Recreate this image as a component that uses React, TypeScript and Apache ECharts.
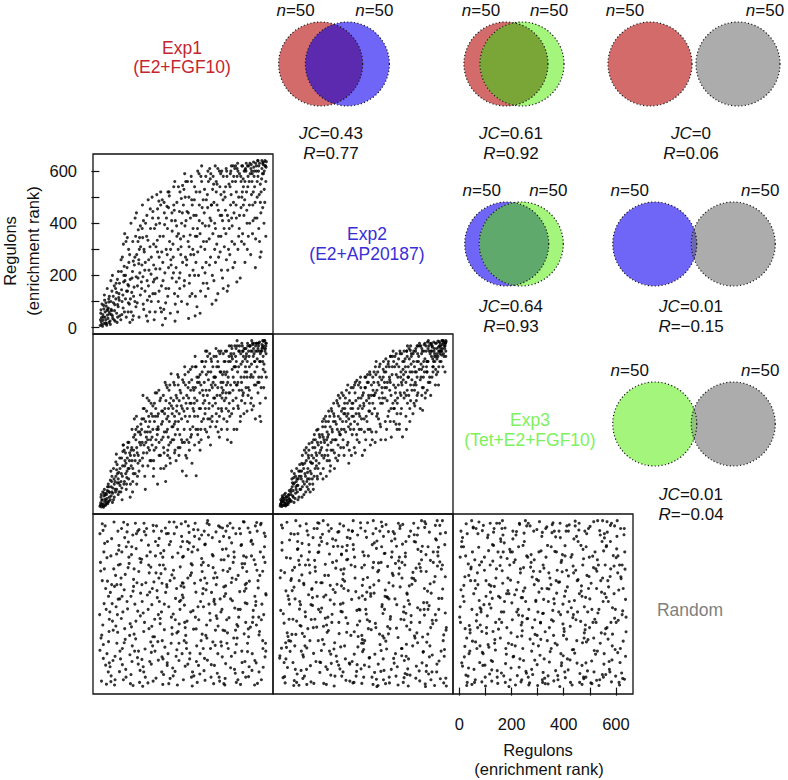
import React, { useEffect, useRef } from "react";
import * as echarts from "echarts";

// ---------------- data ----------------
const setNames = ["Exp1", "Exp2", "Exp3", "Random"];
const setConditions = ["(E2+FGF10)", "(E2+AP20187)", "(Tet+E2+FGF10)", ""];
const setSizes = [50, 50, 50, 50];

const vennLeft = [0, 0, 0, 1, 1, 2];
const vennRight = [1, 2, 3, 2, 3, 3];
const vennJC = [0.43, 0.61, 0, 0.64, 0.01, 0.01];
const vennJCText = ["0.43", "0.61", "0", "0.64", "0.01", "0.01"];
const vennRText = ["0.77", "0.92", "0.06", "0.93", "\u22120.15", "\u22120.04"];

const rankMin = 1;
const rankMax = 640;
const rankTicks = [0, 100, 200, 300, 400, 500, 600];
const rankTickLabels = [0, 200, 400, 600];

// scatter panels: x set index, y set index
const panelXSet = [0, 0, 1, 0, 1, 2];
const panelYSet = [1, 2, 2, 3, 3, 3];

// flattened rank pairs: x, y, x, y, ...
const exp1Exp2 = [
  3,8, 7,22, 12,5, 15,40, 18,15, 22,60, 25,30, 28,9, 31,48, 34,75, 37,20, 5,55, 10,90, 20,105, 26,82, 33,35, 38,120, 14,28, 29,66, 36,98, 8,38, 24,18, 17,72, 39,52,
  42,12, 45,70, 48,140, 51,35, 54,95, 57,160, 60,25, 63,110, 66,55, 69,185, 72,80, 75,130, 78,45, 44,100, 50,200, 58,65, 62,150, 68,20, 74,115, 77,170, 46,50, 70,88,
  82,30, 85,145, 88,270, 91,75, 94,200, 97,360, 100,110, 103,40, 106,230, 109,165, 112,300, 115,90, 118,185, 84,215, 90,125, 96,60, 102,330, 108,140, 113,250, 117,20, 93,175, 111,95,
  122,60, 125,190, 128,330, 131,120, 134,240, 137,420, 140,80, 143,280, 146,160, 149,375, 152,40, 155,210, 158,310, 124,135, 130,255, 136,100, 142,440, 148,190, 154,345, 157,125, 127,30, 151,260,
  162,150, 165,470, 168,90, 171,300, 174,220, 177,400, 180,45, 183,180, 186,335, 189,260, 192,120, 195,455, 198,205, 164,380, 170,70, 176,250, 182,430, 188,160, 194,310, 199,100, 167,195, 185,25,
  202,500, 205,130, 208,240, 211,380, 214,60, 217,310, 220,190, 223,455, 226,100, 229,270, 232,350, 235,520, 238,160, 204,420, 210,30, 216,225, 222,335, 228,485, 234,75, 239,290, 207,175, 231,400,
  242,10, 245,350, 248,480, 251,210, 254,95, 257,420, 260,280, 263,520, 266,150, 269,330, 272,55, 275,240, 278,440, 244,180, 250,395, 256,300, 262,120, 268,505, 274,260, 279,370, 247,70, 265,460,
  282,320, 285,540, 288,130, 291,410, 294,230, 297,480, 300,60, 303,360, 306,190, 309,520, 312,280, 315,100, 318,440, 284,210, 290,25, 296,390, 302,300, 308,150, 314,495, 319,250, 287,450, 311,340,
  322,470, 325,160, 328,390, 331,560, 334,240, 337,90, 340,330, 343,500, 346,200, 349,420, 352,580, 355,130, 358,300, 324,530, 330,270, 336,445, 342,35, 348,355, 354,490, 359,220, 327,590, 345,170,
  362,280, 365,540, 368,120, 371,430, 374,350, 377,600, 380,200, 383,470, 386,55, 389,310, 392,560, 395,400, 398,170, 364,490, 370,250, 376,380, 382,590, 388,140, 394,460, 399,330, 367,45, 385,520,
  402,440, 405,210, 408,580, 411,330, 414,510, 417,150, 420,390, 423,610, 426,270, 429,470, 432,90, 435,360, 438,550, 404,300, 410,490, 416,600, 422,240, 428,410, 434,530, 439,180, 407,120, 425,570,
  442,400, 445,250, 448,560, 451,470, 454,130, 457,350, 460,600, 463,290, 466,510, 469,430, 472,190, 475,580, 478,380, 444,620, 450,320, 456,450, 462,540, 468,220, 474,490, 479,310, 447,105, 465,590,
  482,500, 485,360, 488,600, 491,430, 494,160, 497,550, 500,280, 503,470, 506,620, 509,390, 512,230, 515,580, 518,320, 484,540, 490,140, 496,410, 502,590, 508,330, 514,480, 519,610, 487,260, 505,510,
  522,560, 525,420, 528,610, 531,300, 534,500, 537,590, 540,190, 543,460, 546,620, 549,360, 552,540, 555,600, 558,250, 524,470, 530,630, 536,380, 542,580, 548,520, 554,430, 559,605, 527,175, 545,330, 551,570, 557,490,
  562,600, 565,450, 568,620, 571,350, 574,560, 577,630, 580,280, 583,510, 586,590, 589,410, 592,615, 595,540, 598,230, 564,520, 570,580, 576,400, 582,625, 588,470, 594,600, 599,340, 567,300, 585,560, 591,635, 597,480,
  602,620, 605,500, 608,580, 611,380, 614,630, 617,550, 620,290, 623,610, 626,460, 629,635, 632,530, 635,640, 638,350, 604,420, 610,600, 616,270, 622,570, 628,625, 634,480, 639,615, 607,640, 613,510, 625,590, 631,400, 637,620, 619,440,
];
const exp1Exp2More = [
  4,30, 9,12, 13,50, 16,85, 21,40, 27,15, 32,70, 36,110, 41,25, 47,65, 53,120, 59,88, 64,170, 70,40, 76,105, 6,68, 19,125, 30,150, 44,180, 56,30, 66,135, 73,215, 38,60, 25,95, 50,45,
  83,260, 87,100, 92,320, 98,180, 104,140, 110,60, 116,280, 121,400, 127,215, 133,155, 139,350, 145,95, 151,245, 157,390, 86,50, 95,235, 107,345, 119,110, 130,45, 141,195, 153,300, 100,200, 112,160, 136,270, 148,330,
  163,240, 169,410, 175,140, 181,350, 187,490, 193,60, 199,270, 205,445, 211,185, 217,395, 223,290, 229,140, 235,470, 161,175, 172,290, 184,105, 196,380, 208,320, 220,510, 232,225, 166,345, 190,220, 214,130, 226,420, 238,60,
  243,250, 249,440, 255,150, 261,380, 267,520, 273,300, 279,190, 285,470, 291,90, 297,350, 303,540, 309,210, 315,400, 241,490, 253,35, 265,230, 277,410, 289,560, 301,120, 313,310, 259,465, 283,270, 295,175, 307,445, 319,545,
  323,350, 329,500, 335,260, 341,440, 347,120, 353,560, 359,380, 365,200, 371,520, 377,290, 383,410, 389,580, 395,230, 326,180, 338,560, 350,280, 362,430, 374,80, 386,360, 398,490, 332,410, 344,310, 356,470, 368,350, 392,620,
  403,530, 409,250, 415,460, 421,340, 427,590, 433,200, 439,480, 445,380, 451,550, 457,270, 463,430, 469,600, 475,150, 406,390, 418,560, 430,470, 442,300, 454,610, 466,350, 478,520, 412,170, 424,420, 436,580, 448,520, 472,410,
  483,450, 489,580, 495,300, 501,540, 507,420, 513,620, 519,250, 525,520, 531,600, 537,430, 543,560, 549,620, 555,320, 486,610, 498,380, 510,560, 522,620, 534,350, 546,500, 558,560, 492,220, 504,600, 516,440, 528,580, 552,470,
  563,630, 569,540, 575,470, 581,610, 587,360, 593,580, 599,630, 605,560, 611,620, 617,480, 623,640, 629,590, 635,620, 566,400, 578,590, 590,520, 602,600, 614,330, 626,630, 638,560, 572,620, 584,600, 596,420, 608,640, 620,520, 632,600, 640,636, 560,610,
];

const exp1Exp3 = [
  2,5, 5,18, 8,3, 11,30, 14,12, 17,45, 20,22, 23,8, 26,55, 29,35, 32,15, 35,62, 38,40, 6,40, 13,60, 19,70, 25,28, 31,80, 37,25, 10,14, 22,48, 34,90, 16,2, 28,18,
  42,30, 45,80, 48,120, 51,55, 54,150, 57,40, 60,100, 63,175, 66,70, 69,130, 72,50, 75,95, 78,190, 44,140, 50,20, 56,110, 62,60, 68,165, 74,135, 79,85, 47,100, 65,205,
  82,60, 85,190, 88,120, 91,240, 94,90, 97,160, 100,210, 103,70, 106,140, 109,250, 112,110, 115,180, 118,40, 84,130, 90,215, 96,100, 102,170, 108,230, 114,150, 119,200, 87,30, 105,115,
  122,160, 125,300, 128,100, 131,220, 134,340, 137,180, 140,260, 143,90, 146,310, 149,200, 152,140, 155,290, 158,240, 124,230, 130,130, 136,280, 142,350, 148,170, 154,250, 159,320, 127,60, 145,210,
  162,300, 165,190, 168,380, 171,240, 174,120, 177,330, 180,270, 183,420, 186,160, 189,350, 192,220, 195,290, 198,400, 164,250, 170,340, 176,70, 182,210, 188,310, 194,180, 199,360, 167,430, 185,260,
  202,270, 205,390, 208,180, 211,330, 214,440, 217,230, 220,300, 223,90, 226,360, 229,250, 232,410, 235,150, 238,320, 204,350, 210,220, 216,380, 222,280, 228,450, 234,200, 239,370, 207,120, 225,310,
  242,330, 245,430, 248,210, 251,380, 254,100, 257,290, 260,460, 263,350, 266,240, 269,400, 272,170, 275,513, 278,310, 244,270, 250,360, 256,470, 262,200, 268,330, 274,420, 279,260, 247,150, 265,380,
  282,380, 285,260, 288,470, 291,330, 294,180, 297,420, 300,300, 303,500, 306,360, 309,230, 312,440, 315,340, 318,140, 284,410, 290,220, 296,370, 302,470, 308,280, 314,390, 319,490, 287,320, 305,200,
  322,420, 325,300, 328,510, 331,200, 333,122, 337,380, 340,460, 343,250, 346,350, 349,530, 352,400, 355,170, 358,310, 324,370, 330,470, 336,260, 342,420, 348,300, 354,490, 359,380, 327,540, 345,220,
  362,450, 365,350, 368,540, 371,122, 374,410, 377,280, 380,500, 383,380, 386,220, 389,470, 392,330, 395,560, 398,430, 364,400, 370,300, 376,480, 382,250, 388,380, 394,520, 399,340, 367,580, 385,440,
  402,480, 405,360, 408,560, 411,290, 414,430, 417,520, 420,380, 423,590, 426,240, 429,470, 432,330, 435,540, 438,420, 404,410, 410,510, 416,340, 422,450, 428,570, 434,390, 439,500, 407,600, 425,310,
  442,500, 445,400, 448,580, 451,330, 454,460, 457,540, 460,270, 463,430, 466,600, 469,370, 472,510, 475,450, 478,560, 444,470, 450,540, 456,380, 462,590, 468,300, 474,480, 479,410, 447,610, 465,520,
  482,560, 485,420, 488,600, 491,260, 494,500, 497,580, 500,350, 503,470, 506,620, 509,530, 512,410, 515,590, 518,480, 484,510, 490,300, 496,440, 502,560, 508,610, 514,380, 519,540, 487,470, 505,250,
  522,580, 525,470, 528,620, 531,390, 534,540, 537,600, 540,330, 543,500, 546,630, 549,560, 552,440, 555,610, 558,520, 524,610, 530,520, 536,450, 542,590, 548,620, 554,360, 559,570, 527,300, 545,480, 551,600,
  562,610, 565,520, 568,630, 571,460, 574,580, 577,620, 580,400, 583,550, 586,600, 589,500, 592,630, 595,560, 598,340, 564,590, 570,430, 576,620, 582,510, 588,625, 594,470, 599,600, 567,560, 585,375, 591,610,
  602,630, 605,570, 608,610, 611,500, 614,635, 617,590, 620,460, 623,625, 626,560, 629,638, 632,610, 635,520, 638,630, 604,540, 610,620, 616,400, 622,600, 628,580, 634,640, 639,590, 607,480, 613,600, 625,615, 631,550, 637,610, 619,330,
];
const exp1Exp3More = [
  4,10, 9,28, 15,6, 21,32, 27,50, 33,22, 39,58, 45,45, 51,75, 57,90, 63,120, 69,95, 75,60, 79,150, 7,50, 18,55, 30,65, 42,105, 54,30, 66,145, 72,110, 24,12, 36,80, 48,60, 60,70,
  83,100, 89,160, 95,220, 101,130, 107,190, 113,250, 119,90, 125,180, 131,270, 137,130, 143,230, 149,290, 155,180, 86,75, 98,180, 110,150, 122,220, 134,200, 146,120, 158,280, 92,240, 104,90, 116,210, 128,150, 140,300,
  163,340, 169,210, 175,290, 181,370, 187,230, 193,330, 199,180, 205,300, 211,400, 217,260, 223,350, 229,200, 235,420, 166,160, 178,250, 190,410, 202,240, 214,350, 226,300, 238,260, 172,380, 184,290, 196,260, 208,150, 220,440,
  243,370, 249,290, 255,410, 261,300, 267,450, 273,250, 279,360, 285,480, 291,280, 297,390, 303,330, 309,450, 315,260, 246,230, 258,340, 270,470, 282,310, 294,430, 306,410, 318,380, 252,480, 264,270, 276,390, 288,350, 300,510,
  323,480, 329,350, 335,430, 341,520, 347,400, 353,280, 359,460, 365,420, 371,540, 377,350, 383,480, 389,300, 395,450, 326,250, 338,330, 350,450, 362,370, 374,500, 386,510, 398,400, 332,400, 344,480, 356,540, 368,460, 392,560,
  403,540, 409,450, 415,580, 421,400, 427,520, 433,460, 439,580, 445,500, 451,430, 457,600, 463,520, 469,460, 475,590, 406,380, 418,490, 430,560, 442,420, 454,560, 466,480, 478,520, 412,600, 424,340, 436,480, 448,360, 472,440,
  483,600, 489,520, 495,560, 501,440, 507,580, 513,500, 519,620, 525,560, 531,480, 537,620, 543,550, 549,600, 555,500, 486,380, 498,620, 510,570, 522,540, 534,600, 546,450, 558,610, 492,480, 504,590, 516,540, 528,640, 552,580,
  563,580, 569,620, 575,540, 581,600, 587,630, 593,590, 599,620, 605,600, 611,630, 617,560, 623,610, 629,620, 635,600, 566,500, 578,620, 590,580, 602,630, 614,560, 626,640, 638,620, 572,600, 584,640, 596,560, 608,630, 620,600, 632,640, 640,630, 560,540,
  390,260, 405,300, 418,270, 432,350, 446,310, 455,290, 468,380, 477,340, 489,330, 498,400, 507,360, 516,300, 524,420, 533,380, 541,350, 550,430, 558,400, 566,370, 575,450, 583,420,
  591,390, 600,470, 608,440, 615,350, 622,500, 630,460, 637,420, 460,350, 470,420, 485,440, 495,370, 512,450, 528,470, 545,410, 562,460, 579,500, 596,520, 612,480, 628,530, 640,500,
  255,160, 270,190, 288,210, 302,230, 318,250, 335,190, 350,270, 365,240, 378,300, 262,220,
];

const exp2Exp3 = [
  3,6, 6,15, 9,4, 12,25, 15,10, 18,35, 21,18, 24,6, 27,42, 30,28, 33,12, 36,50, 39,32, 5,30, 11,45, 17,22, 23,55, 29,14, 35,38, 8,20, 20,8, 26,30, 38,65, 14,40,
  42,25, 45,70, 48,110, 51,45, 54,90, 57,130, 60,35, 63,80, 66,150, 69,60, 72,110, 75,40, 78,165, 44,50, 50,95, 56,20, 62,120, 68,85, 74,140, 79,70, 47,140, 65,100, 71,30, 53,65,
  82,70, 85,140, 88,200, 91,100, 94,50, 97,170, 100,120, 103,230, 106,80, 109,150, 112,190, 115,110, 118,60, 84,110, 90,165, 96,90, 102,210, 108,135, 114,245, 119,175, 87,40, 105,100, 111,70,
  122,130, 125,250, 128,90, 131,190, 134,280, 137,150, 140,210, 143,297, 146,110, 149,240, 152,170, 155,270, 158,130, 124,200, 130,70, 136,230, 142,160, 148,300, 154,210, 159,250, 127,170, 145,120,
  162,230, 165,330, 168,150, 171,260, 174,200, 177,350, 180,120, 183,290, 186,240, 189,370, 192,180, 195,310, 198,250, 164,280, 170,190, 176,310, 182,220, 188,330, 194,140, 199,380, 167,110, 185,270,
  202,300, 205,220, 208,400, 211,150, 214,330, 217,260, 220,410, 223,180, 226,350, 229,290, 232,420, 235,230, 238,370, 204,260, 210,350, 216,190, 222,300, 228,390, 234,280, 239,440, 207,330, 225,240,
  242,330, 245,430, 248,200, 251,380, 254,290, 257,450, 260,240, 263,360, 266,170, 269,410, 272,300, 275,460, 278,350, 244,260, 250,400, 256,330, 262,470, 268,220, 274,380, 279,280, 247,360, 265,310,
  282,400, 285,300, 288,470, 291,210, 294,360, 297,488, 300,320, 303,420, 306,250, 309,390, 312,460, 315,340, 318,200, 284,350, 290,440, 296,280, 302,380, 308,480, 314,300, 319,430, 287,230, 305,360,
  322,440, 325,340, 328,500, 331,260, 334,410, 337,480, 340,300, 343,370, 346,520, 349,240, 352,430, 355,360, 358,500, 324,390, 330,460, 336,330, 342,430, 348,510, 354,290, 359,450, 327,220, 345,400,
  362,480, 365,380, 368,540, 371,290, 374,450, 377,520, 380,340, 383,420, 386,550, 389,260, 392,490, 395,400, 398,530, 364,430, 370,510, 376,360, 382,470, 388,310, 394,440, 399,560, 367,250, 385,500,
  402,520, 405,420, 408,570, 411,300, 414,480, 417,550, 420,370, 423,450, 426,580, 429,270, 432,510, 435,400, 438,560, 404,460, 410,540, 416,350, 422,500, 428,430, 434,580, 439,330, 407,260, 425,480,
  442,540, 445,460, 448,590, 451,360, 454,500, 457,570, 460,300, 463,440, 466,520, 469,590, 472,271, 475,490, 478,560, 444,410, 450,550, 456,470, 462,600, 468,380, 474,530, 479,440, 447,320, 465,500,
  482,570, 485,480, 488,600, 491,400, 494,540, 497,610, 500,330, 503,470, 506,590, 509,520, 512,360, 515,600, 518,450, 484,520, 490,580, 496,430, 502,603, 508,490, 514,560, 519,390, 487,300, 505,550,
  522,600, 525,520, 528,620, 531,440, 534,580, 537,630, 540,380, 543,550, 546,610, 549,373, 552,500, 555,625, 558,570, 524,470, 530,590, 536,530, 542,620, 548,460, 554,600, 559,420, 527,560, 545,590, 551,540,
  562,620, 565,560, 568,635, 571,480, 574,600, 577,630, 580,430, 583,580, 586,615, 589,520, 592,635, 595,590, 598,470, 564,540, 570,610, 576,500, 582,625, 588,570, 594,610, 599,530, 567,450, 585,600, 591,560,
  602,630, 605,590, 608,638, 611,540, 614,620, 617,600, 620,560, 623,640, 626,610, 629,590, 632,635, 635,620, 638,600, 604,570, 610,615, 616,630, 622,585, 628,640, 634,610, 639,636, 607,520, 613,600, 625,625, 631,580, 637,630, 619,610,
];
const exp2Exp3More = [
  4,12, 8,25, 13,8, 17,30, 22,15, 26,40, 31,22, 35,48, 40,30, 44,60, 49,80, 53,40, 58,95, 62,55, 67,110, 71,85, 76,120, 10,35, 28,10, 46,25, 64,70, 79,140, 19,50, 37,20, 55,115,
  83,120, 88,80, 93,150, 98,130, 103,180, 108,110, 113,220, 118,140, 123,170, 128,230, 133,120, 138,260, 143,200, 148,150, 153,280, 158,220, 86,170, 101,60, 116,90, 131,260, 146,250, 96,220, 111,200, 126,110, 141,180,
  163,200, 168,270, 173,250, 178,330, 183,180, 188,280, 193,350, 198,220, 203,290, 208,360, 213,260, 218,320, 223,400, 228,200, 233,340, 238,300, 166,310, 181,260, 196,160, 211,210, 226,430, 171,340, 186,200, 201,370, 231,280,
  243,380, 248,300, 253,420, 258,350, 263,250, 268,440, 273,320, 278,400, 283,460, 288,330, 293,410, 298,260, 303,470, 308,350, 313,420, 318,380, 246,230, 261,400, 276,200, 291,480, 306,300, 251,360, 266,340, 281,380, 311,500,
  323,400, 328,460, 333,350, 338,510, 343,420, 348,300, 353,470, 358,400, 363,520, 368,440, 373,350, 378,480, 383,540, 388,400, 393,460, 398,500, 326,290, 341,480, 356,260, 371,560, 386,320, 331,500, 346,370, 361,430, 396,420,
  403,480, 408,520, 413,410, 418,560, 423,490, 428,380, 433,540, 438,470, 443,580, 448,510, 453,420, 458,540, 463,590, 468,480, 473,560, 478,600, 406,330, 421,540, 436,600, 451,300, 466,430, 411,460, 426,580, 441,380, 476,510,
  483,540, 488,600, 493,500, 498,570, 503,620, 508,450, 513,590, 518,540, 523,610, 528,500, 533,560, 538,620, 543,500, 548,600, 553,560, 558,630, 486,430, 501,520, 516,400, 531,620, 546,430, 491,620, 506,580, 521,480, 556,520,
  563,600, 568,560, 573,620, 578,590, 583,630, 588,540, 593,600, 598,630, 603,610, 608,580, 613,636, 618,620, 623,600, 628,630, 633,620, 638,640, 566,520, 581,600, 596,560, 611,600, 626,640, 571,640, 586,620, 601,580, 636,630, 616,590,
  425,330, 438,380, 452,400, 465,360, 478,420, 490,450, 503,410, 515,470, 528,430, 540,490, 552,460, 565,520, 577,480, 590,540, 602,510, 615,560, 627,540, 638,580,
  445,440, 470,470, 495,500, 520,520, 545,530, 570,560, 595,580, 620,600, 500,380, 525,410, 560,440, 585,500, 610,470, 635,520, 460,320, 485,350,
];

const exp1Random = [
  22,620, 4,480, 35,350, 13,240, 29,130, 8,25, 17,520, 38,95, 2,590, 31,560, 11,410, 26,300, 6,190, 34,60, 19,455, 1,280, 24,380, 15,165, 37,215,
  71,600, 44,505, 62,430, 78,340, 50,255, 67,170, 41,80, 58,10, 75,545, 47,395, 64,310, 53,220, 79,140, 45,45, 56,635, 73,470, 42,365, 60,120, 69,280,
  97,575, 113,500, 83,420, 106,330, 118,245, 88,150, 101,70, 92,30, 85,610, 110,460, 95,375, 116,200, 81,110, 103,540, 90,290, 119,15, 99,185, 87,350, 108,625,
  138,630, 124,540, 151,445, 129,370, 157,275, 133,205, 146,115, 121,50, 142,590, 136,320, 159,480, 126,160, 149,90, 131,415, 154,20, 140,255, 123,510, 147,600, 135,140,
  181,610, 195,520, 163,395, 187,300, 170,215, 199,135, 176,40, 161,565, 191,440, 168,80, 184,355, 173,250, 197,175, 166,5, 189,470, 178,585, 164,330, 193,100, 171,630,
  215,560, 231,470, 203,380, 238,290, 211,195, 226,105, 206,25, 219,620, 235,515, 201,235, 228,420, 213,140, 239,60, 222,345, 208,600, 233,265, 217,440, 204,160, 225,545,
  257,590, 243,500, 271,410, 249,320, 278,230, 263,130, 246,50, 268,635, 252,455, 276,270, 241,180, 260,85, 273,560, 254,365, 266,15, 247,525, 279,205, 258,395, 244,110,
  296,615, 312,540, 284,450, 318,355, 291,260, 305,170, 281,75, 299,10, 315,580, 287,420, 309,300, 294,120, 319,500, 302,215, 286,635, 313,390, 297,145, 283,45, 307,330,
  337,560, 352,475, 324,385, 359,295, 331,200, 346,110, 322,30, 341,620, 355,520, 327,250, 349,430, 334,150, 357,60, 321,345, 344,595, 329,230, 353,440, 339,90, 325,180,
  378,605, 392,495, 365,400, 399,310, 371,225, 386,130, 362,45, 383,570, 396,360, 368,270, 390,180, 375,20, 361,540, 394,445, 380,85, 367,630, 388,330, 373,160, 398,480,
  418,585, 433,510, 404,420, 439,330, 411,240, 426,150, 401,65, 421,625, 436,460, 408,200, 430,365, 414,105, 438,15, 406,550, 423,285, 412,400, 435,175, 402,600, 428,40,
  457,620, 472,530, 444,440, 479,350, 451,265, 466,175, 441,85, 461,25, 476,580, 448,395, 470,300, 454,130, 478,490, 445,220, 463,615, 452,55, 474,450, 443,320, 468,160,
  498,575, 513,480, 484,390, 519,305, 491,210, 506,120, 482,35, 501,630, 516,520, 488,260, 509,420, 494,150, 518,70, 485,600, 503,340, 492,445, 515,190, 481,10, 507,555,
  537,610, 553,505, 524,415, 559,325, 531,235, 546,140, 521,55, 541,590, 556,370, 528,190, 549,460, 534,270, 558,100, 525,20, 543,545, 532,300, 555,635, 522,220, 547,475,
  577,595, 593,490, 564,400, 599,315, 571,225, 586,130, 561,40, 581,560, 596,350, 568,170, 589,270, 574,80, 598,620, 565,445, 583,505, 572,195, 595,10, 562,380, 587,250,
  618,625, 633,540, 604,450, 639,355, 611,270, 626,180, 601,95, 621,30, 636,580, 608,410, 629,500, 614,215, 638,140, 605,600, 623,320, 612,60, 635,480, 602,240, 627,150,
];
const exp1RandomMore = [
  14,603, 47,571, 66,512, 5,447, 29,498, 58,388, 72,339, 18,322, 40,290, 63,236, 9,201, 35,176, 52,104, 77,61, 24,86, 44,23, 70,212, 11,628, 55,455, 31,408, 67,395, 2,143, 38,262, 74,527, 20,553, 49,322, 60,30, 27,13, 80,473, 15,112,
  93,634, 128,585, 152,606, 86,520, 114,476, 141,533, 99,434, 131,388, 158,362, 108,302, 84,265, 123,233, 147,293, 95,172, 117,126, 139,187, 156,66, 102,40, 129,8, 88,88, 111,558, 144,402, 133,455, 121,350, 97,226, 150,140, 125,100, 106,597, 155,495, 82,395,
  172,598, 206,622, 229,572, 188,546, 215,505, 162,492, 236,437, 197,462, 178,402, 221,372, 201,318, 168,286, 233,245, 190,226, 212,262, 175,148, 224,176, 199,90, 163,108, 217,36, 240,118, 186,18, 205,195, 230,330, 182,505, 170,60, 209,405, 238,600, 193,366, 226,280,
  253,612, 287,590, 314,628, 268,548, 301,516, 245,470, 278,432, 310,463, 259,386, 292,342, 318,402, 266,310, 283,282, 306,244, 249,222, 275,170, 297,210, 317,130, 260,95, 290,62, 243,12, 271,35, 305,104, 312,335, 251,155, 280,500, 296,380, 264,591, 240,400, 319,560,
  330,636, 361,606, 392,585, 345,555, 377,528, 322,503, 356,470, 388,412, 339,420, 370,366, 398,380, 326,316, 350,290, 381,260, 361,224, 333,172, 394,205, 347,132, 372,100, 329,82, 356,6, 385,52, 398,150, 340,530, 365,580, 321,400, 391,470, 378,310, 336,255, 353,40,
  413,630, 447,597, 472,612, 404,548, 436,505, 461,560, 418,468, 451,422, 477,386, 409,375, 440,338, 466,290, 425,258, 455,236, 412,190, 444,162, 471,118, 429,88, 459,40, 403,112, 477,15, 433,575, 467,490, 420,320, 448,275, 405,28, 474,220, 438,420, 463,340, 415,640,
  491,620, 523,590, 552,636, 486,532, 517,500, 545,548, 500,456, 532,430, 559,395, 484,360, 510,333, 540,300, 497,268, 527,242, 555,206, 489,170, 520,134, 547,96, 503,76, 531,30, 481,218, 557,475, 512,612, 538,368, 494,505, 525,166, 550,58, 506,403, 484,92, 541,12,
  570,612, 603,633, 632,592, 583,565, 617,520, 563,500, 598,472, 626,446, 575,408, 609,382, 638,360, 566,322, 590,296, 621,260, 579,232, 612,202, 637,170, 568,138, 596,104, 628,78, 572,42, 606,16, 635,118, 588,550, 620,630, 561,250, 600,330, 630,280, 585,66, 615,430,
];

const exp2Random = [
  12,612, 27,498, 3,421, 36,338, 18,247, 8,151, 31,77, 22,18, 39,566, 6,449, 25,371, 15,283, 33,196, 1,113, 20,42, 29,634, 10,527, 37,262, 24,172,
  44,590, 71,532, 58,461, 49,372, 77,301, 63,204, 41,139, 68,52, 55,8, 79,620, 46,418, 66,255, 52,96, 74,488, 60,340, 43,178, 70,560, 57,27, 76,410,
  103,628, 87,553, 115,470, 94,395, 81,318, 109,226, 98,160, 119,84, 90,35, 106,601, 84,505, 112,356, 100,272, 92,118, 117,440, 96,196, 83,66, 110,585, 105,12,
  129,575, 151,520, 138,446, 124,376, 157,290, 143,232, 131,131, 155,58, 121,22, 147,632, 135,488, 159,402, 127,315, 149,180, 140,100, 122,261, 153,546, 133,610, 145,350,
  168,640, 183,552, 176,473, 195,392, 162,305, 188,219, 171,166, 199,93, 180,12, 165,588, 192,512, 174,430, 186,270, 161,142, 197,48, 178,355, 169,235, 190,600, 184,70,
  224,596, 207,541, 236,452, 214,365, 202,281, 229,207, 218,121, 239,44, 210,6, 232,628, 204,480, 221,396, 234,320, 212,172, 227,86, 201,250, 216,565, 238,510, 209,148,
  246,620, 271,572, 258,490, 243,415, 277,338, 262,246, 250,160, 268,94, 255,28, 279,600, 248,455, 264,372, 241,290, 274,200, 253,110, 260,545, 244,60, 270,25, 257,525,
  300,585, 284,530, 316,460, 293,368, 309,298, 287,214, 319,138, 296,62, 282,18, 312,612, 290,420, 305,344, 315,170, 298,88, 288,500, 308,255, 283,640, 318,392, 302,196,
  338,632, 356,548, 326,470, 347,384, 331,300, 352,222, 323,146, 344,80, 359,12, 334,576, 321,415, 350,350, 337,260, 327,180, 355,40, 341,505, 329,600, 358,460, 346,115,
  370,610, 392,540, 377,444, 363,362, 397,284, 384,205, 366,128, 389,62, 374,4, 399,580, 361,480, 381,410, 394,318, 368,246, 386,165, 379,90, 364,555, 391,635, 372,32,
  418,598, 405,515, 433,438, 412,348, 426,272, 401,190, 438,112, 421,40, 409,625, 430,562, 415,465, 436,390, 403,300, 424,226, 411,148, 429,70, 407,15, 432,520, 420,340,
  456,630, 472,550, 445,476, 463,386, 478,310, 449,228, 468,150, 452,80, 475,20, 441,590, 460,500, 470,420, 443,340, 466,262, 455,192, 479,104, 447,44, 462,610, 458,436,
  497,580, 483,516, 512,442, 490,358, 505,276, 518,198, 486,120, 501,48, 494,6, 515,630, 481,470, 508,396, 499,320, 488,236, 511,160, 492,72, 517,560, 503,600, 485,285,
  532,612, 548,542, 524,458, 556,380, 540,298, 527,210, 551,136, 536,64, 559,14, 529,585, 545,490, 521,410, 553,326, 538,250, 530,172, 547,95, 523,36, 557,636, 543,522,
  575,596, 590,520, 563,445, 582,362, 598,280, 569,205, 586,125, 572,52, 595,8, 561,628, 579,488, 593,405, 566,326, 588,245, 577,160, 564,84, 599,570, 581,30, 570,540,
  615,622, 634,548, 606,466, 626,378, 611,300, 639,220, 620,140, 603,60, 630,18, 617,590, 608,505, 636,425, 623,342, 601,258, 628,180, 612,102, 638,36, 605,640, 625,470,
];
const exp2RandomMore = [
  33,352, 61,70, 8,623, 48,204, 75,9, 20,441, 57,588, 2,122, 39,320, 69,530, 14,38, 52,262, 77,471, 27,154, 63,640, 5,296, 44,411, 71,590, 18,96, 56,385, 36,180, 79,238, 10,556, 42,496, 66,20, 25,110, 50,450, 78,330, 30,210, 59,160,
  121,318, 96,44, 145,610, 83,236, 132,16, 110,490, 158,575, 90,126, 127,345, 148,518, 104,70, 136,262, 86,432, 117,180, 152,630, 99,290, 141,404, 113,548, 88,208, 125,380, 155,98, 105,152, 137,462, 93,400, 150,300, 115,520, 130,230, 84,140, 158,96, 100,470,
  164,402, 197,128, 228,598, 176,266, 213,44, 238,512, 186,624, 221,100, 170,348, 204,570, 232,72, 181,240, 216,458, 165,184, 199,610, 236,292, 188,430, 224,542, 170,16, 206,376, 235,156, 183,212, 219,486, 162,560, 195,336, 228,250, 178,80, 210,320, 238,390, 192,140,
  247,380, 279,100, 311,632, 258,212, 294,44, 320,520, 265,604, 301,156, 244,324, 283,548, 316,16, 255,268, 290,464, 318,184, 260,576, 297,296, 245,436, 280,600, 313,72, 250,408, 287,128, 318,352, 262,492, 299,240, 241,540, 275,470, 305,300, 270,90, 316,200, 286,20,
  329,338, 365,58, 394,618, 341,226, 378,8, 325,506, 359,590, 390,142, 335,366, 372,534, 399,30, 346,254, 381,450, 322,170, 360,640, 393,310, 338,422, 374,562, 326,86, 362,394, 396,198, 344,114, 380,478, 333,282, 390,480, 350,360, 370,230, 398,110, 323,40, 385,600,
  406,374, 440,94, 473,626, 418,206, 455,10, 402,514, 436,598, 470,150, 414,346, 449,542, 478,38, 425,262, 460,458, 408,178, 443,570, 476,290, 420,402, 457,486, 401,66, 436,430, 469,122, 415,234, 450,318, 463,620, 430,500, 478,260, 445,130, 405,350, 470,480, 422,18,
  489,362, 525,82, 557,614, 500,222, 538,26, 483,502, 517,586, 552,138, 494,334, 531,530, 560,4, 505,250, 543,446, 487,166, 522,558, 556,278, 498,390, 536,474, 482,54, 515,418, 549,194, 495,110, 530,306, 545,640, 508,420, 485,560, 555,300, 520,190, 490,50, 540,460,
  568,370, 604,90, 637,594, 580,230, 617,34, 562,510, 598,622, 633,146, 574,314, 610,538, 640,6, 586,258, 621,454, 565,174, 602,566, 636,286, 578,398, 615,482, 563,62, 597,426, 630,202, 575,118, 611,342, 625,640, 590,480, 640,230, 570,300, 607,520, 632,120, 585,60,
];

const exp3Random = [
  26,628, 9,560, 34,474, 17,392, 3,310, 38,238, 21,158, 12,82, 30,20, 6,600, 24,505, 36,430, 14,350, 1,270, 28,190, 19,118, 33,44, 8,540, 22,226,
  53,615, 74,538, 45,462, 62,380, 79,306, 41,222, 67,150, 56,70, 48,12, 71,590, 59,490, 43,410, 76,334, 65,256, 50,178, 78,96, 61,30, 47,640, 69,440,
  88,602, 112,525, 96,450, 119,366, 83,290, 104,208, 91,130, 116,52, 100,6, 108,575, 85,482, 114,395, 94,318, 80,240, 110,165, 98,86, 86,22, 118,630, 102,350,
  143,630, 127,548, 156,468, 134,388, 121,305, 150,224, 138,144, 124,68, 147,16, 131,596, 159,500, 140,420, 126,342, 153,262, 136,184, 122,104, 145,40, 158,570, 129,215,
  175,612, 193,530, 164,448, 186,372, 170,290, 198,210, 180,128, 161,56, 190,4, 167,585, 183,495, 196,412, 173,330, 162,250, 188,170, 177,92, 195,30, 165,640, 181,360,
  219,598, 203,520, 234,440, 212,356, 227,278, 239,198, 206,118, 222,46, 215,10, 231,626, 209,480, 225,404, 201,325, 237,240, 214,160, 229,78, 205,570, 220,290, 236,22,
  258,620, 244,545, 273,462, 251,382, 266,300, 241,218, 277,140, 255,62, 269,18, 248,592, 262,500, 279,424, 242,345, 259,264, 271,186, 246,104, 264,40, 253,640, 275,510,
  297,606, 313,524, 284,446, 305,366, 319,284, 290,204, 309,124, 281,50, 300,8, 316,580, 287,490, 303,410, 293,330, 311,248, 283,168, 298,88, 318,30, 307,636, 289,260,
  335,616, 352,540, 324,458, 343,378, 358,296, 329,214, 348,138, 321,58, 340,14, 355,594, 332,500, 347,420, 323,338, 353,260, 337,180, 345,98, 327,36, 359,632, 341,330,
  382,600, 366,522, 394,444, 373,362, 388,280, 361,200, 398,122, 377,46, 385,4, 369,578, 392,488, 380,404, 364,322, 397,244, 375,164, 391,84, 362,26, 386,630, 371,410,
  421,624, 405,544, 436,466, 414,386, 429,306, 401,226, 438,146, 417,68, 426,20, 409,600, 432,510, 418,428, 403,350, 435,268, 411,186, 424,106, 406,38, 439,570, 415,290,
  458,604, 474,530, 446,450, 467,370, 453,290, 479,210, 442,132, 462,54, 470,12, 449,580, 476,494, 455,414, 441,334, 465,254, 472,172, 451,94, 477,34, 444,638, 460,360,
  501,618, 486,540, 514,460, 495,380, 508,300, 482,222, 517,142, 491,64, 504,18, 488,590, 511,504, 497,426, 484,346, 519,262, 493,184, 507,102, 485,40, 515,636, 499,230,
  538,602, 553,524, 527,446, 545,366, 531,286, 558,206, 522,128, 548,50, 535,8, 556,574, 529,490, 542,410, 551,330, 524,250, 540,170, 554,90, 526,28, 549,640, 533,470,
  579,622, 564,544, 593,466, 572,386, 587,306, 561,226, 597,146, 575,70, 583,22, 567,596, 590,506, 578,426, 563,346, 595,266, 570,186, 585,106, 599,44, 566,636, 581,250,
  618,610, 603,532, 635,454, 611,374, 626,294, 639,214, 607,134, 622,56, 614,10, 631,586, 601,498, 620,418, 637,338, 609,258, 628,178, 616,96, 633,32, 605,640, 624,470,
];
const exp3RandomMore = [
  12,575, 37,130, 64,610, 25,48, 71,395, 4,250, 50,520, 79,160, 18,330, 44,455, 58,20, 30,590, 67,280, 9,95, 41,210, 75,635, 21,425, 55,360, 3,500, 35,75, 62,175, 16,540, 48,300, 77,470, 28,8, 53,612, 6,375, 70,230, 40,140, 60,410,
  92,622, 118,470, 145,65, 83,300, 131,545, 157,190, 102,410, 124,25, 150,350, 88,135, 110,585, 139,250, 96,500, 127,100, 154,630, 86,215, 115,320, 142,455, 99,40, 135,170, 159,560, 107,275, 121,390, 148,520, 90,85, 133,610, 113,155, 156,345, 104,230, 128,485,
  170,45, 196,520, 225,300, 163,610, 208,120, 234,455, 182,230, 217,585, 190,360, 239,30, 166,400, 203,260, 230,630, 178,150, 214,490, 198,75, 237,345, 172,555, 222,195, 186,420, 161,290, 205,600, 232,110, 193,470, 176,20, 219,375, 240,250, 168,520, 201,165, 227,540,
  254,330, 285,600, 312,185, 246,460, 277,70, 305,520, 262,265, 296,415, 319,20, 243,150, 271,620, 301,290, 258,505, 289,105, 316,380, 249,560, 280,230, 309,445, 266,10, 293,335, 242,275, 275,480, 303,160, 318,595, 257,55, 287,395, 311,250, 264,630, 298,200, 245,370,
  331,610, 360,255, 390,480, 325,110, 351,395, 378,30, 397,320, 338,545, 367,170, 384,405, 322,285, 356,625, 392,95, 343,440, 372,520, 399,200, 329,15, 362,340, 387,575, 345,230, 321,470, 369,65, 395,510, 352,150, 381,290, 336,380, 364,600, 389,130, 340,45, 375,450,
  405,505, 433,145, 468,390, 412,620, 447,260, 476,40, 421,330, 455,560, 402,215, 438,440, 470,85, 418,600, 450,180, 479,310, 428,500, 461,20, 407,370, 444,620, 473,470, 414,110, 437,280, 466,545, 404,60, 452,410, 478,190, 425,235, 459,630, 432,10, 470,350, 411,450,
  489,430, 516,60, 547,560, 483,240, 526,380, 555,130, 495,610, 535,300, 508,15, 559,470, 487,175, 520,520, 544,210, 500,340, 530,640, 552,40, 492,290, 523,455, 485,95, 540,585, 512,250, 557,360, 498,500, 529,140, 549,420, 481,600, 515,190, 538,30, 505,400, 556,590,
  571,330, 604,580, 637,120, 580,455, 612,20, 566,230, 595,620, 628,380, 577,60, 608,505, 639,270, 586,160, 619,425, 563,540, 598,300, 632,610, 574,100, 614,470, 587,205, 626,35, 569,410, 601,250, 634,520, 583,630, 617,150, 561,50, 593,360, 624,280, 579,560, 607,440,
];

const panelPoints = [
  [...exp1Exp2, ...exp1Exp2More],
  [...exp1Exp3, ...exp1Exp3More],
  [...exp2Exp3, ...exp2Exp3More],
  [...exp1Random, ...exp1RandomMore],
  [...exp2Random, ...exp2RandomMore],
  [...exp3Random, ...exp3RandomMore],
];

// ---------------- styles & layout ----------------
const FONT = "'Liberation Sans', Arial, Helvetica, sans-serif";
const setTextColors = ["#c4262d", "#3a2ed6", "#7ef05c", "#808080"];
const setFills = ["#d46b6b", "#6f65f7", "#a3f57b", "#acacac"];
const overlapFills = ["#5b2aae", "#79a636", "#acacac", "#5fa96c", "#6c68ad", "#8fc27a"];

const CELL = 180;
const GRID_LEFT = 93;
const GRID_TOP = 154;
const VENN_R = 42;
const VENN_SHIFT = -29;
const labelPos = [
  [182, 57.5],
  [367, 244],
  [530, 430],
  [690, 610],
];
const jcRowY = [133, 306, 494];

function toPairs(flat: number[]) {
  const out: number[][] = [];
  for (let i = 0; i + 1 < flat.length; i += 2) out.push([flat[i], flat[i + 1]]);
  return out;
}

function overlapFraction(d: number) {
  const r = VENN_R;
  if (d >= 2 * r) return 0;
  const a = 2 * r * r * Math.acos(d / (2 * r)) - (d / 2) * Math.sqrt(4 * r * r - d * d);
  return a / (Math.PI * r * r);
}

function centerDistance(jc: number, nA: number, nB: number) {
  if (jc <= 0) return 2 * VENN_R + 4;
  const k = (jc * (nA + nB)) / (1 + jc);
  const target = k / Math.min(nA, nB);
  let lo = 0;
  let hi = 2 * VENN_R;
  for (let i = 0; i < 60; i++) {
    const mid = (lo + hi) / 2;
    if (overlapFraction(mid) > target) lo = mid;
    else hi = mid;
  }
  return (lo + hi) / 2;
}

const textBase = { fontFamily: FONT, fontSize: 17, fill: "#111" };
const richItalic = {
  i: { fontFamily: FONT, fontSize: 17, fontStyle: "italic", fill: "#111" },
  r: { fontFamily: FONT, fontSize: 17, fill: "#111" },
};

function renderVenn(params: any) {
  const i = params.dataIndex;
  const a = vennLeft[i];
  const b = vennRight[i];
  const cx = GRID_LEFT + CELL * b + CELL / 2 + VENN_SHIFT;
  const cy = GRID_TOP - CELL / 2 + CELL * a;
  const d = centerDistance(vennJC[i], setSizes[a], setSizes[b]);
  const x1 = cx - d / 2;
  const x2 = cx + d / 2;
  const r = VENN_R;
  const children: any[] = [];
  children.push({ type: "circle", shape: { cx: x1, cy, r }, style: { fill: setFills[a] } });
  children.push({ type: "circle", shape: { cx: x2, cy, r }, style: { fill: setFills[b] } });
  if (d < 2 * r) {
    const h = Math.sqrt(r * r - (d * d) / 4);
    const pd = `M${cx} ${cy - h} A${r} ${r} 0 0 1 ${cx} ${cy + h} A${r} ${r} 0 0 1 ${cx} ${cy - h} Z`;
    children.push({ type: "path", shape: { pathData: pd }, style: { fill: overlapFills[i] } });
  }
  const outline = { fill: "none", stroke: "#1a1a1a", lineWidth: 1.2, lineDash: [1.2, 2.2] };
  children.push({ type: "circle", shape: { cx: x1, cy, r }, style: { ...outline } });
  children.push({ type: "circle", shape: { cx: x2, cy, r }, style: { ...outline } });
  const nLabel = (x: number, n: number) => ({
    type: "text",
    x,
    y: cy - 54,
    style: { ...textBase, text: `{i|n}{r|=${n}}`, rich: richItalic, align: "center", verticalAlign: "middle" },
  });
  children.push(nLabel(x1 - 25, setSizes[a]));
  children.push(nLabel(x2 + 27, setSizes[b]));
  children.push({
    type: "text",
    x: cx - 3,
    y: jcRowY[a],
    style: { ...textBase, text: `{i|JC}{r|=${vennJCText[i]}}`, rich: richItalic, align: "center", verticalAlign: "middle" },
  });
  children.push({
    type: "text",
    x: cx - 3,
    y: jcRowY[a] + 20,
    style: { ...textBase, text: `{i|R}{r|=${vennRText[i]}}`, rich: richItalic, align: "center", verticalAlign: "middle" },
  });
  return { type: "group", children };
}

function buildOption() {
  const ext = 0.04 * (rankMax - rankMin);
  const axMin = rankMin - ext;
  const axMax = rankMax + ext;
  const grids: any[] = [];
  const xAxes: any[] = [];
  const yAxes: any[] = [];
  const series: any[] = [];
  panelPoints.forEach((pts, p) => {
    const col = panelXSet[p];
    const row = panelYSet[p] - 1;
    grids.push({
      left: GRID_LEFT + CELL * col,
      top: GRID_TOP + CELL * row,
      width: CELL,
      height: CELL,
      show: true,
      borderColor: "#111",
      borderWidth: 1.3,
      backgroundColor: "transparent",
    });
    const showX = p === 5;
    const showY = p === 0;
    xAxes.push({
      type: "value",
      gridIndex: p,
      min: axMin,
      max: axMax,
      show: showX,
      position: "bottom",
      offset: 2,
      axisLine: { show: false },
      splitLine: { show: false },
      axisTick: { show: true, length: 8, customValues: rankTicks, lineStyle: { color: "#111", width: 1.2 } },
      axisLabel: { customValues: rankTickLabels, margin: 19, fontSize: 16.5, fontFamily: FONT, color: "#111" },
    });
    yAxes.push({
      type: "value",
      gridIndex: p,
      min: axMin,
      max: axMax,
      show: showY,
      position: "left",
      axisLine: { show: false },
      splitLine: { show: false },
      axisTick: { show: true, length: 8, customValues: rankTicks, lineStyle: { color: "#111", width: 1.2 } },
      axisLabel: { customValues: rankTickLabels, margin: 16, fontSize: 16.5, fontFamily: FONT, color: "#111" },
    });
    series.push({
      type: "scatter",
      xAxisIndex: p,
      yAxisIndex: p,
      data: toPairs(pts),
      symbol: "circle",
      symbolSize: 3.1,
      itemStyle: { color: "#000" },
      silent: true,
    });
  });
  series.push({
    type: "custom",
    coordinateSystem: "none",
    data: vennLeft.map((_, i) => i),
    renderItem: renderVenn,
    silent: true,
  });

  const graphic: any[] = setNames.map((name, i) => ({
    type: "text",
    x: labelPos[i][0],
    y: labelPos[i][1],
    style: {
      text: setConditions[i] ? `${name}\n${setConditions[i]}` : name,
      fill: setTextColors[i],
      fontFamily: FONT,
      fontSize: 17.5,
      lineHeight: 19.5,
      align: "center",
      verticalAlign: "middle",
    },
  }));
  graphic.push(
    { type: "text", x: 538, y: 750, style: { text: "Regulons", fill: "#111", fontFamily: FONT, fontSize: 16.5, align: "center", verticalAlign: "middle" } },
    { type: "text", x: 539, y: 769, style: { text: "(enrichment rank)", fill: "#111", fontFamily: FONT, fontSize: 16.5, align: "center", verticalAlign: "middle" } },
    { type: "text", x: 10, y: 251, rotation: Math.PI / 2, style: { text: "Regulons", fill: "#111", fontFamily: FONT, fontSize: 16.5, align: "center", verticalAlign: "middle" } },
    { type: "text", x: 33, y: 251, rotation: Math.PI / 2, style: { text: "(enrichment rank)", fill: "#111", fontFamily: FONT, fontSize: 16.5, align: "center", verticalAlign: "middle" } }
  );

  return {
    animation: false,
    backgroundColor: "#fff",
    grid: grids,
    xAxis: xAxes,
    yAxis: yAxes,
    series,
    graphic,
  };
}

export default function App() {
  const ref = useRef<HTMLDivElement>(null);
  useEffect(() => {
    if (!ref.current) return;
    const chart = echarts.init(ref.current, null, { renderer: "svg" });
    chart.setOption(buildOption() as any);
    return () => chart.dispose();
  }, []);
  return <div ref={ref} style={{ position: "absolute", left: 0, top: 0, width: 788, height: 780 }} />;
}
